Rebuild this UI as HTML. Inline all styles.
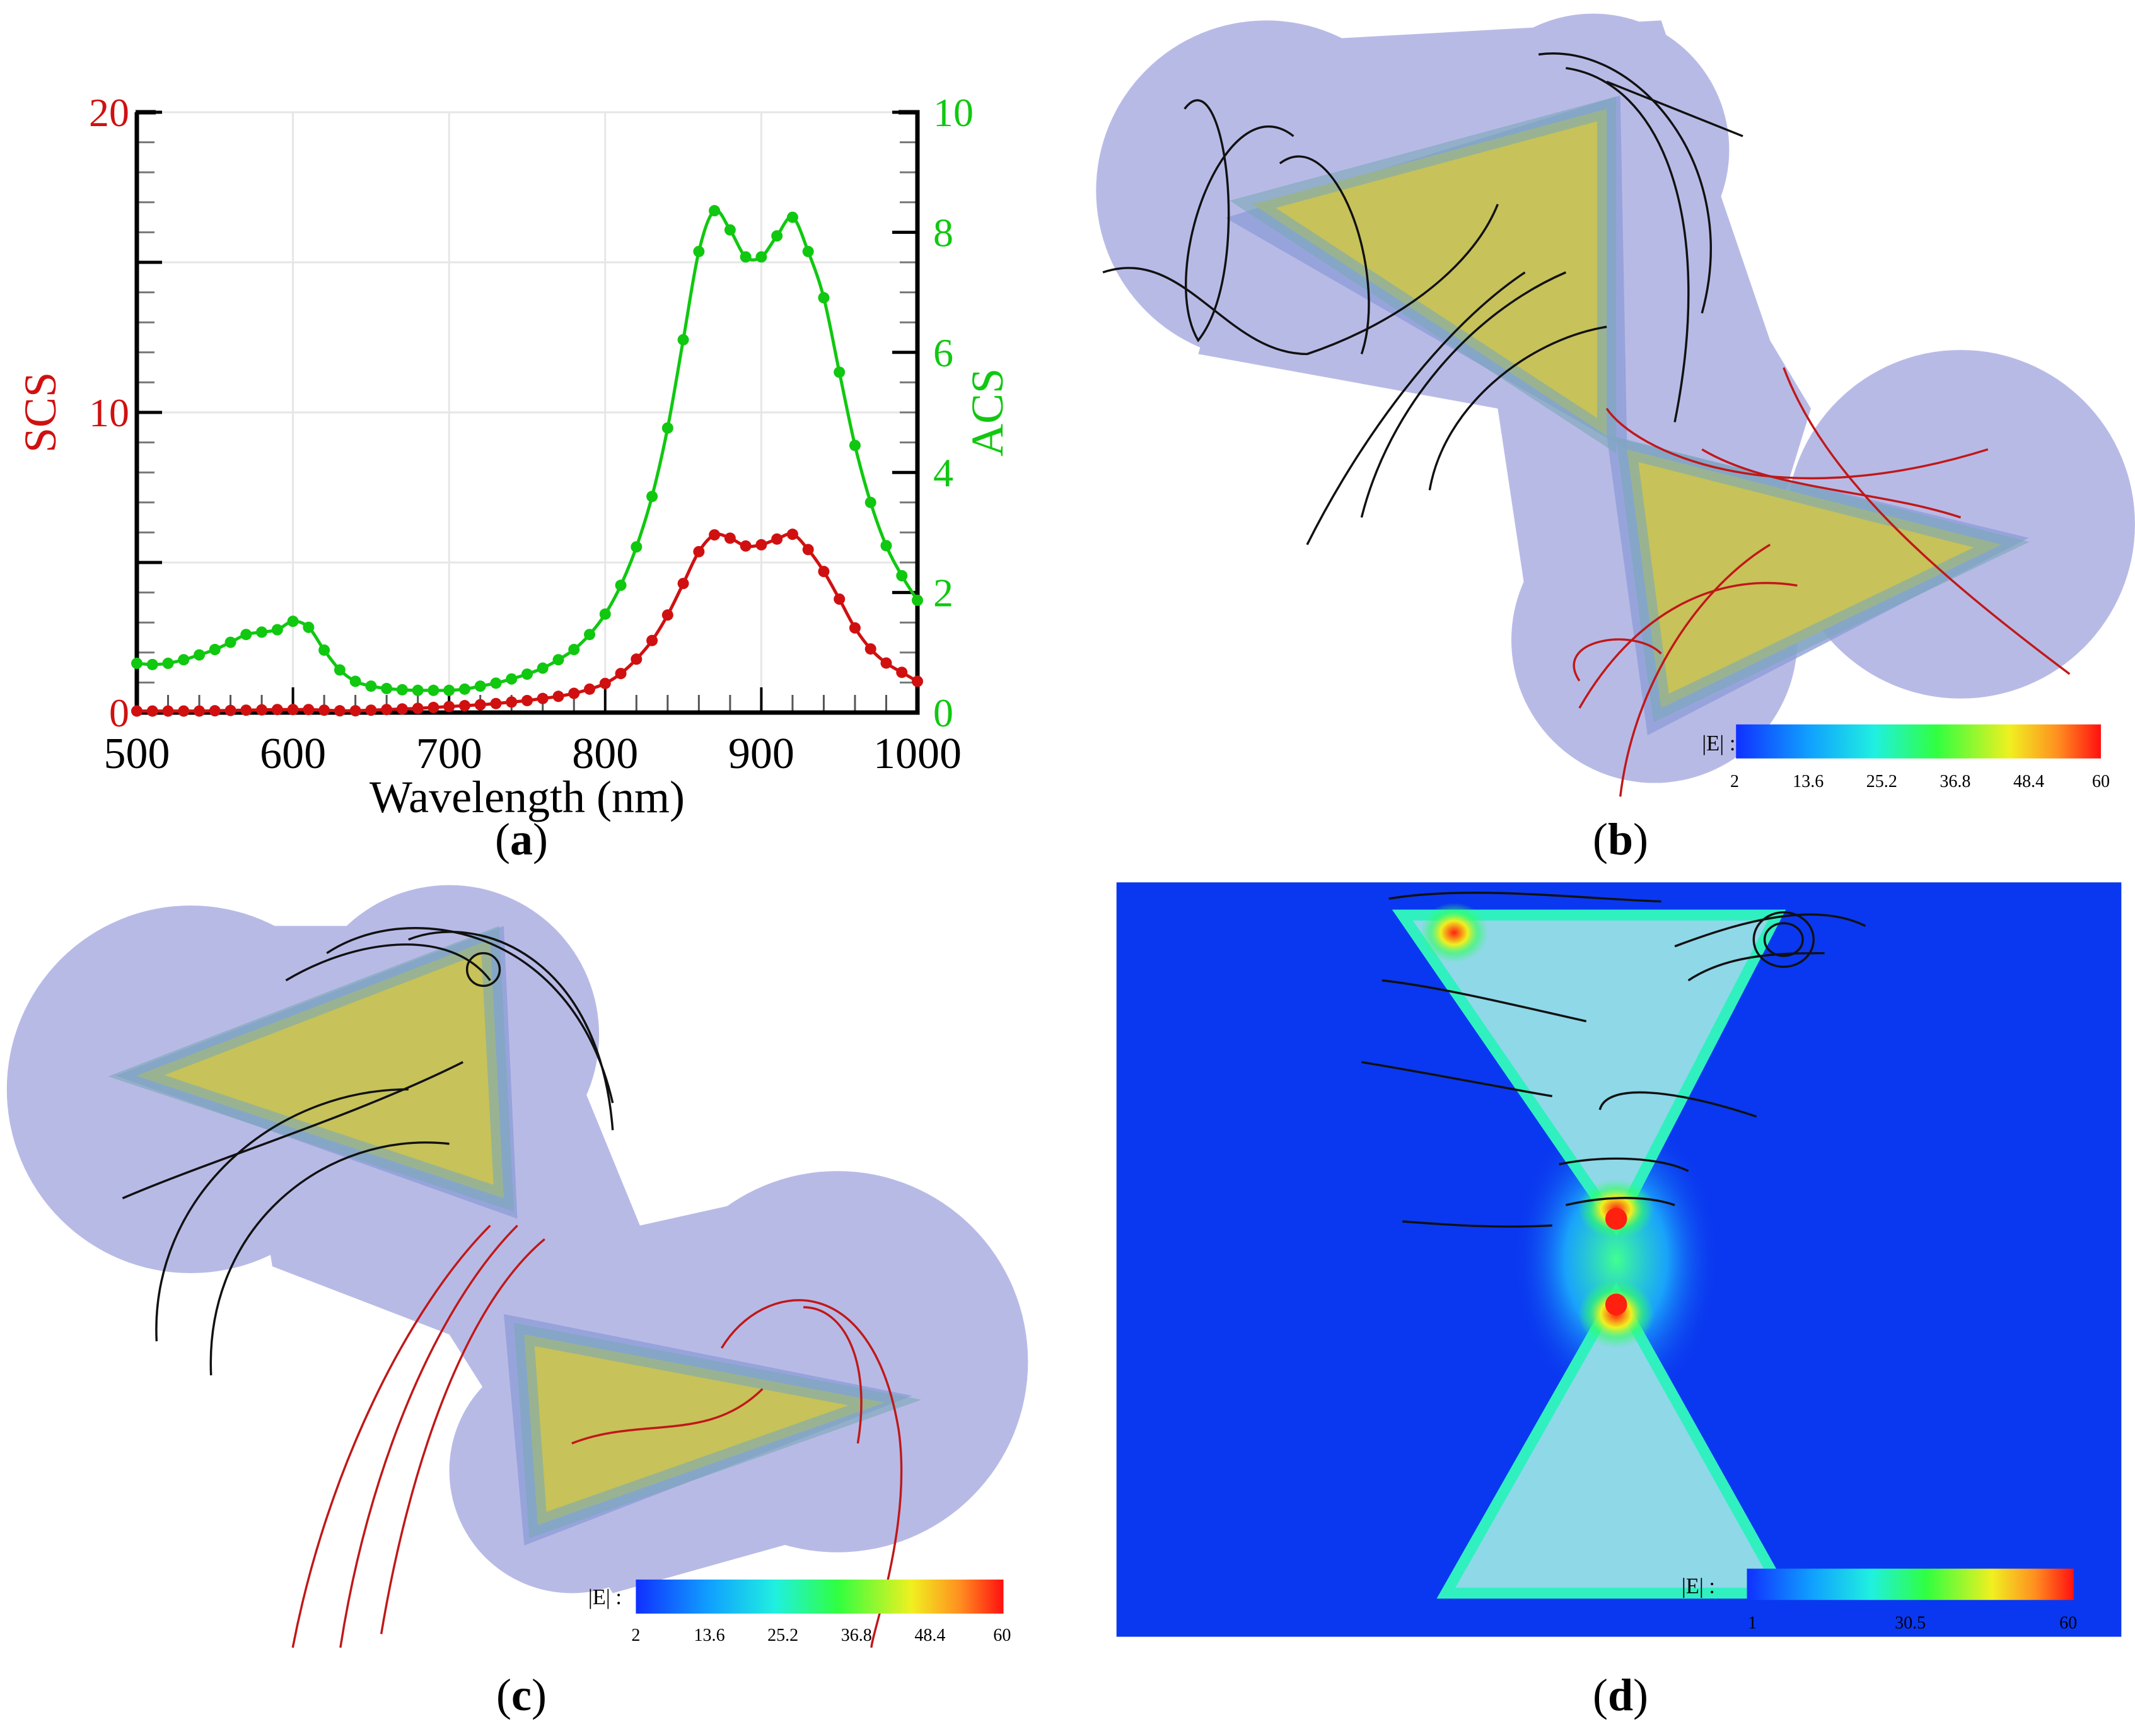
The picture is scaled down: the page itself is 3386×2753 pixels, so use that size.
<!DOCTYPE html>
<html><head><meta charset="utf-8"><style>
html,body{margin:0;padding:0;background:#fff}
svg{display:block;font-family:"Liberation Serif",serif}
</style></head><body>
<svg id="root" width="3386" height="2753" viewBox="0 0 3386 2753" xmlns="http://www.w3.org/2000/svg">
<defs>
<linearGradient id="jet" x1="0" x2="1" y1="0" y2="0">
<stop offset="0" stop-color="#1030ff"/><stop offset="0.2" stop-color="#10a0ff"/><stop offset="0.38" stop-color="#20f0e0"/><stop offset="0.55" stop-color="#30ff40"/><stop offset="0.75" stop-color="#f0f020"/><stop offset="0.88" stop-color="#ff9020"/><stop offset="1" stop-color="#ff1010"/>
</linearGradient>
<radialGradient id="hot" cx="0.5" cy="0.5" r="0.5"><stop offset="0" stop-color="#ff2010"/><stop offset="0.4" stop-color="#f0f020"/><stop offset="0.7" stop-color="#30ff60" stop-opacity="0.6"/><stop offset="1" stop-color="#30ff60" stop-opacity="0"/></radialGradient>
<radialGradient id="gapglow" cx="0.5" cy="0.5" r="0.5"><stop offset="0" stop-color="#40ff90"/><stop offset="0.5" stop-color="#20d0ff" stop-opacity="0.7"/><stop offset="1" stop-color="#1040f0" stop-opacity="0"/></radialGradient>
</defs>
<g id="chartA"></g>
<text x="827" y="1355" font-size="72" text-anchor="middle">(<tspan font-weight="bold">a</tspan>)</text>
<text x="2570" y="1355" font-size="72" text-anchor="middle">(<tspan font-weight="bold">b</tspan>)</text>
<text x="827" y="2712" font-size="72" text-anchor="middle">(<tspan font-weight="bold">c</tspan>)</text>
<text x="2570" y="2712" font-size="72" text-anchor="middle">(<tspan font-weight="bold">d</tspan>)</text>

<g transform="scale(2.1594)">
<!-- panel b -->
<g>
<g fill="#b8bae6">
<circle cx="930" cy="140" r="125"/><circle cx="1170" cy="110" r="100"/><circle cx="1440" cy="385" r="128"/><circle cx="1215" cy="470" r="105"/>
<path d="M950 30 L1220 15 L1300 250 L1330 300 L1250 560 L1130 500 L1100 300 L880 260 Z"/>
</g>
<path d="M900 160 L1190 70 L1195 330 Z" fill="#8f9fd8" opacity="0.8"/>
<path d="M1180 320 L1490 395 L1210 540 Z" fill="#8f9fd8" opacity="0.8"/>
<path d="M920 150 L1180 80 L1180 320 Z" fill="#c7c25a" stroke="#7aa8b8" stroke-width="14" stroke-opacity="0.6"/>
<path d="M1195 330 L1470 400 L1220 520 Z" fill="#c7c25a" stroke="#7aa8b8" stroke-width="14" stroke-opacity="0.6"/>
<g fill="none" stroke="#111" stroke-width="1.6">
<path d="M810 200 C870 180 900 260 960 260 C1020 240 1080 200 1100 150"/>
<path d="M960 400 C1000 320 1060 240 1120 200"/>
<path d="M1000 380 C1020 300 1080 230 1150 200"/>
<path d="M1050 360 C1060 300 1120 250 1180 240"/>
<path d="M870 80 C900 40 920 200 880 250 C850 200 900 60 950 100"/>
<path d="M1130 40 C1200 30 1280 120 1250 230"/>
<path d="M1150 50 C1220 60 1260 160 1230 310"/>
<path d="M1180 60 C1230 80 1280 100 1280 100"/>
<path d="M940 120 C980 90 1020 200 1000 260"/>
</g>
<g fill="none" stroke="#c01818" stroke-width="1.6">
<path d="M1180 300 C1200 330 1300 380 1460 330"/>
<path d="M1190 585 C1200 500 1250 430 1300 400"/>
<path d="M1160 520 C1200 450 1260 420 1320 430"/>
<path d="M1310 270 C1340 350 1420 420 1520 495"/>
<path d="M1160 500 C1140 470 1200 460 1220 480"/>
<path d="M1250 330 C1300 360 1380 360 1440 380"/>
</g>
<rect x="1275" y="532" width="268" height="25" fill="url(#jet)"/>
<text x="1250" y="551" font-size="16">|E| :</text>
<g font-size="13" text-anchor="middle"><text x="1274" y="578">2</text><text x="1328" y="578">13.6</text><text x="1382" y="578">25.2</text><text x="1436" y="578">36.8</text><text x="1490" y="578">48.4</text><text x="1543" y="578">60</text></g>
</g>
<!-- panel c -->
<g>
<g fill="#b8bae6">
<circle cx="140" cy="800" r="135"/><circle cx="330" cy="760" r="110"/><circle cx="615" cy="1000" r="140"/><circle cx="420" cy="1080" r="90"/>
<path d="M160 680 L380 680 L470 900 L560 880 L700 1100 L450 1170 L330 980 L200 930 Z"/>
</g>
<path d="M85 790 L370 680 L380 895 Z" fill="#8f9fd8" opacity="0.8"/>
<path d="M370 965 L670 1025 L385 1135 Z" fill="#8f9fd8" opacity="0.8"/>
<path d="M100 790 L360 690 L370 880 Z" fill="#c7c25a" stroke="#7aa8b8" stroke-width="14" stroke-opacity="0.6"/>
<path d="M385 980 L650 1030 L395 1120 Z" fill="#c7c25a" stroke="#7aa8b8" stroke-width="14" stroke-opacity="0.6"/>
<g fill="none" stroke="#111" stroke-width="1.6">
<path d="M115 985 C110 880 200 800 300 800"/>
<path d="M155 1010 C150 900 240 830 330 840"/>
<path d="M90 880 C160 850 260 820 340 780"/>
<path d="M210 720 C260 690 330 680 360 720"/>
<path d="M240 700 C300 660 420 680 450 810"/>
<path d="M300 690 C350 670 440 700 450 830"/>
<circle cx="355" cy="712" r="12"/>
</g>
<g fill="none" stroke="#c01818" stroke-width="1.6">
<path d="M215 1210 C240 1080 300 960 360 900"/>
<path d="M250 1210 C270 1080 320 960 380 900"/>
<path d="M280 1200 C300 1080 340 960 400 910"/>
<path d="M530 990 C560 940 640 930 660 1050 C670 1120 640 1200 640 1210"/>
<path d="M420 1060 C470 1040 520 1060 560 1020"/>
<path d="M590 960 C620 960 640 1000 630 1060"/>
</g>
<rect x="467" y="1160" width="270" height="25" fill="url(#jet)"/>
<text x="432" y="1178" font-size="16">|E| :</text>
<g font-size="13" text-anchor="middle"><text x="467" y="1205">2</text><text x="521" y="1205">13.6</text><text x="575" y="1205">25.2</text><text x="629" y="1205">36.8</text><text x="683" y="1205">48.4</text><text x="736" y="1205">60</text></g>
</g>
<!-- panel d -->
<g>
<rect x="820" y="648" width="738" height="554" fill="#0a38f0"/>
<ellipse cx="1187" cy="925" rx="75" ry="110" fill="url(#gapglow)"/>
<path d="M1030 672 L1305 672 L1187 900 Z" fill="#8fd8e8" stroke="#30f0c0" stroke-width="8"/>
<path d="M1062 1170 L1310 1170 L1187 950 Z" fill="#8fd8e8" stroke="#30f0c0" stroke-width="8"/>
<ellipse cx="1187" cy="888" rx="28" ry="22" fill="url(#hot)"/>
<ellipse cx="1187" cy="965" rx="28" ry="25" fill="url(#hot)"/>
<ellipse cx="1068" cy="685" rx="25" ry="22" fill="url(#hot)"/>
<ellipse cx="1187" cy="958" rx="8" ry="8" fill="#ff2010"/>
<ellipse cx="1187" cy="895" rx="8" ry="8" fill="#ff2010"/>
<g fill="none" stroke="#111" stroke-width="1.6">
<path d="M1020 660 C1080 650 1160 660 1220 662"/>
<path d="M1015 720 C1060 725 1120 740 1165 750"/>
<path d="M1000 780 C1060 790 1110 800 1140 805"/>
<path d="M1030 897 C1070 900 1100 902 1140 900"/>
<path d="M1175 815 C1180 795 1230 800 1290 820"/>
<path d="M1145 855 C1180 848 1220 850 1240 860"/>
<path d="M1150 885 C1180 878 1210 878 1230 885"/>
<path d="M1230 695 C1270 680 1330 660 1370 680"/>
<ellipse cx="1310" cy="690" rx="22" ry="20"/><ellipse cx="1310" cy="690" rx="14" ry="12"/>
<path d="M1240 720 C1270 700 1310 700 1340 700"/>
</g>
<rect x="1283" y="1152" width="240" height="23" fill="url(#jet)"/>
<text x="1235" y="1170" font-size="16">|E| :</text>
<g font-size="13" text-anchor="middle"><text x="1287" y="1196">1</text><text x="1403" y="1196">30.5</text><text x="1519" y="1196">60</text></g>
</g>
</g>
</svg>
<script>
const wavelengths=[500,510,520,530,540,550,560,570,580,590,600,610,620,630,640,650,660,670,680,690,700,710,720,730,740,750,760,770,780,790,800,810,820,830,840,850,860,870,880,890,900,910,920,930,940,950,960,970,980,990,1000];
const acsValues=[0.82,0.80,0.82,0.88,0.96,1.05,1.17,1.30,1.34,1.38,1.52,1.42,1.04,0.71,0.52,0.44,0.40,0.38,0.37,0.37,0.37,0.39,0.44,0.49,0.56,0.64,0.74,0.88,1.05,1.30,1.64,2.12,2.76,3.60,4.74,6.21,7.68,8.36,8.04,7.59,7.59,7.94,8.25,7.68,6.91,5.67,4.45,3.50,2.78,2.28,1.87];
const scsValues=[0.05,0.05,0.05,0.05,0.05,0.06,0.07,0.08,0.09,0.1,0.1,0.1,0.08,0.06,0.06,0.08,0.1,0.12,0.14,0.17,0.2,0.23,0.26,0.3,0.35,0.4,0.47,0.54,0.64,0.78,0.97,1.3,1.78,2.4,3.25,4.3,5.36,5.92,5.81,5.55,5.59,5.78,5.94,5.43,4.7,3.78,2.82,2.12,1.65,1.34,1.04];
const xTickLabels=[500,600,700,800,900,1000];
const leftTickLabels=[0,10,20];
const rightTickLabels=[0,2,4,6,8,10];

const NS="http://www.w3.org/2000/svg";
const g=document.getElementById('chartA');
const L=217,R=1455,T=178,B=1130;
const xs=v=>L+(v-500)/500*(R-L);
const yl=v=>B-v/20*(B-T);
const yr=v=>B-v/10*(B-T);
function mk(tag,attrs,parent){const e=document.createElementNS(NS,tag);for(const k in attrs)e.setAttribute(k,attrs[k]);(parent||g).appendChild(e);return e;}

for(const v of [600,700,800,900]){const e=mk('line',{x1:xs(v),x2:xs(v),y1:T,y2:B,stroke:'#e6e6e6','stroke-width':3});

}
for(const v of [5,10,15,20]){const e=mk('line',{x1:L,x2:R,y1:yl(v),y2:yl(v),stroke:'#e6e6e6','stroke-width':3});

}
for(let v=0;v<=20;v++){const maj=v%5===0;const e=mk('line',{x1:L,x2:L+(maj?40:28),y1:yl(v),y2:yl(v),stroke:maj?'#000':'#777','stroke-width':maj?5:3});

}
for(let v=0;v<=10;v+=0.5){const maj=Math.abs(v%2)<1e-6;const e=mk('line',{x1:R,x2:R-(maj?40:28),y1:yr(v),y2:yr(v),stroke:maj?'#000':'#777','stroke-width':maj?5:3});

}
for(let v=500;v<=1000;v+=20){const maj=v%100===0;const e=mk('line',{x1:xs(v),x2:xs(v),y1:B,y2:B-(maj?40:28),stroke:maj?'#000':'#555','stroke-width':maj?4:3});

}
const ax=mk('path',{d:`M${L-2} ${T} H${L} V${B} H${R} V${T} H${R-30} M${L} ${T} H${L+30}`,fill:'none',stroke:'#000','stroke-width':7});


function series(vals,yf,color,name){
 const pts=vals.map((v,i)=>[xs(wavelengths[i]),yf(v)]);
 let d=`M${pts[0][0]} ${pts[0][1]}`;
 for(let i=0;i<pts.length-1;i++){const p0=pts[Math.max(0,i-1)],p1=pts[i],p2=pts[i+1],p3=pts[Math.min(pts.length-1,i+2)];
  d+=` C${p1[0]+(p2[0]-p0[0])/6} ${p1[1]+(p2[1]-p0[1])/6} ${p2[0]-(p3[0]-p1[0])/6} ${p2[1]-(p3[1]-p1[1])/6} ${p2[0]} ${p2[1]}`;}
 const l=mk('path',{d,fill:'none',stroke:color,'stroke-width':5});
 
 
 pts.forEach(p=>{const c=mk('circle',{cx:p[0],cy:p[1],r:9,fill:color});
  
  });
}
series(acsValues,yr,'#10c810','acs');
series(scsValues,yl,'#d01010','scs');
xTickLabels.forEach(v=>{const t=mk('text',{x:xs(v),y:B+88,'font-size':70,'text-anchor':'middle'});t.textContent=v;

});
leftTickLabels.forEach(v=>{const t=mk('text',{x:L-12,y:yl(v)+22,'font-size':64,'text-anchor':'end',fill:'#d01010'});t.textContent=v;

});
rightTickLabels.forEach(v=>{const t=mk('text',{x:R+25,y:yr(v)+22,'font-size':64,'text-anchor':'start',fill:'#10c810'});t.textContent=v;

});
const xt=mk('text',{x:(L+R)/2,y:B+158,'font-size':72,'text-anchor':'middle'});xt.textContent='Wavelength (nm)';


const lt=mk('text',{x:0,y:0,'font-size':72,'text-anchor':'middle',fill:'#d01010',transform:`translate(88 ${yl(10)}) rotate(-90)`});lt.textContent='SCS';


const rt=mk('text',{x:0,y:0,'font-size':72,'text-anchor':'middle',fill:'#10c810',transform:`translate(1590 ${yr(5)}) rotate(-90)`});rt.textContent='ACS';


</script>
</body></html>
